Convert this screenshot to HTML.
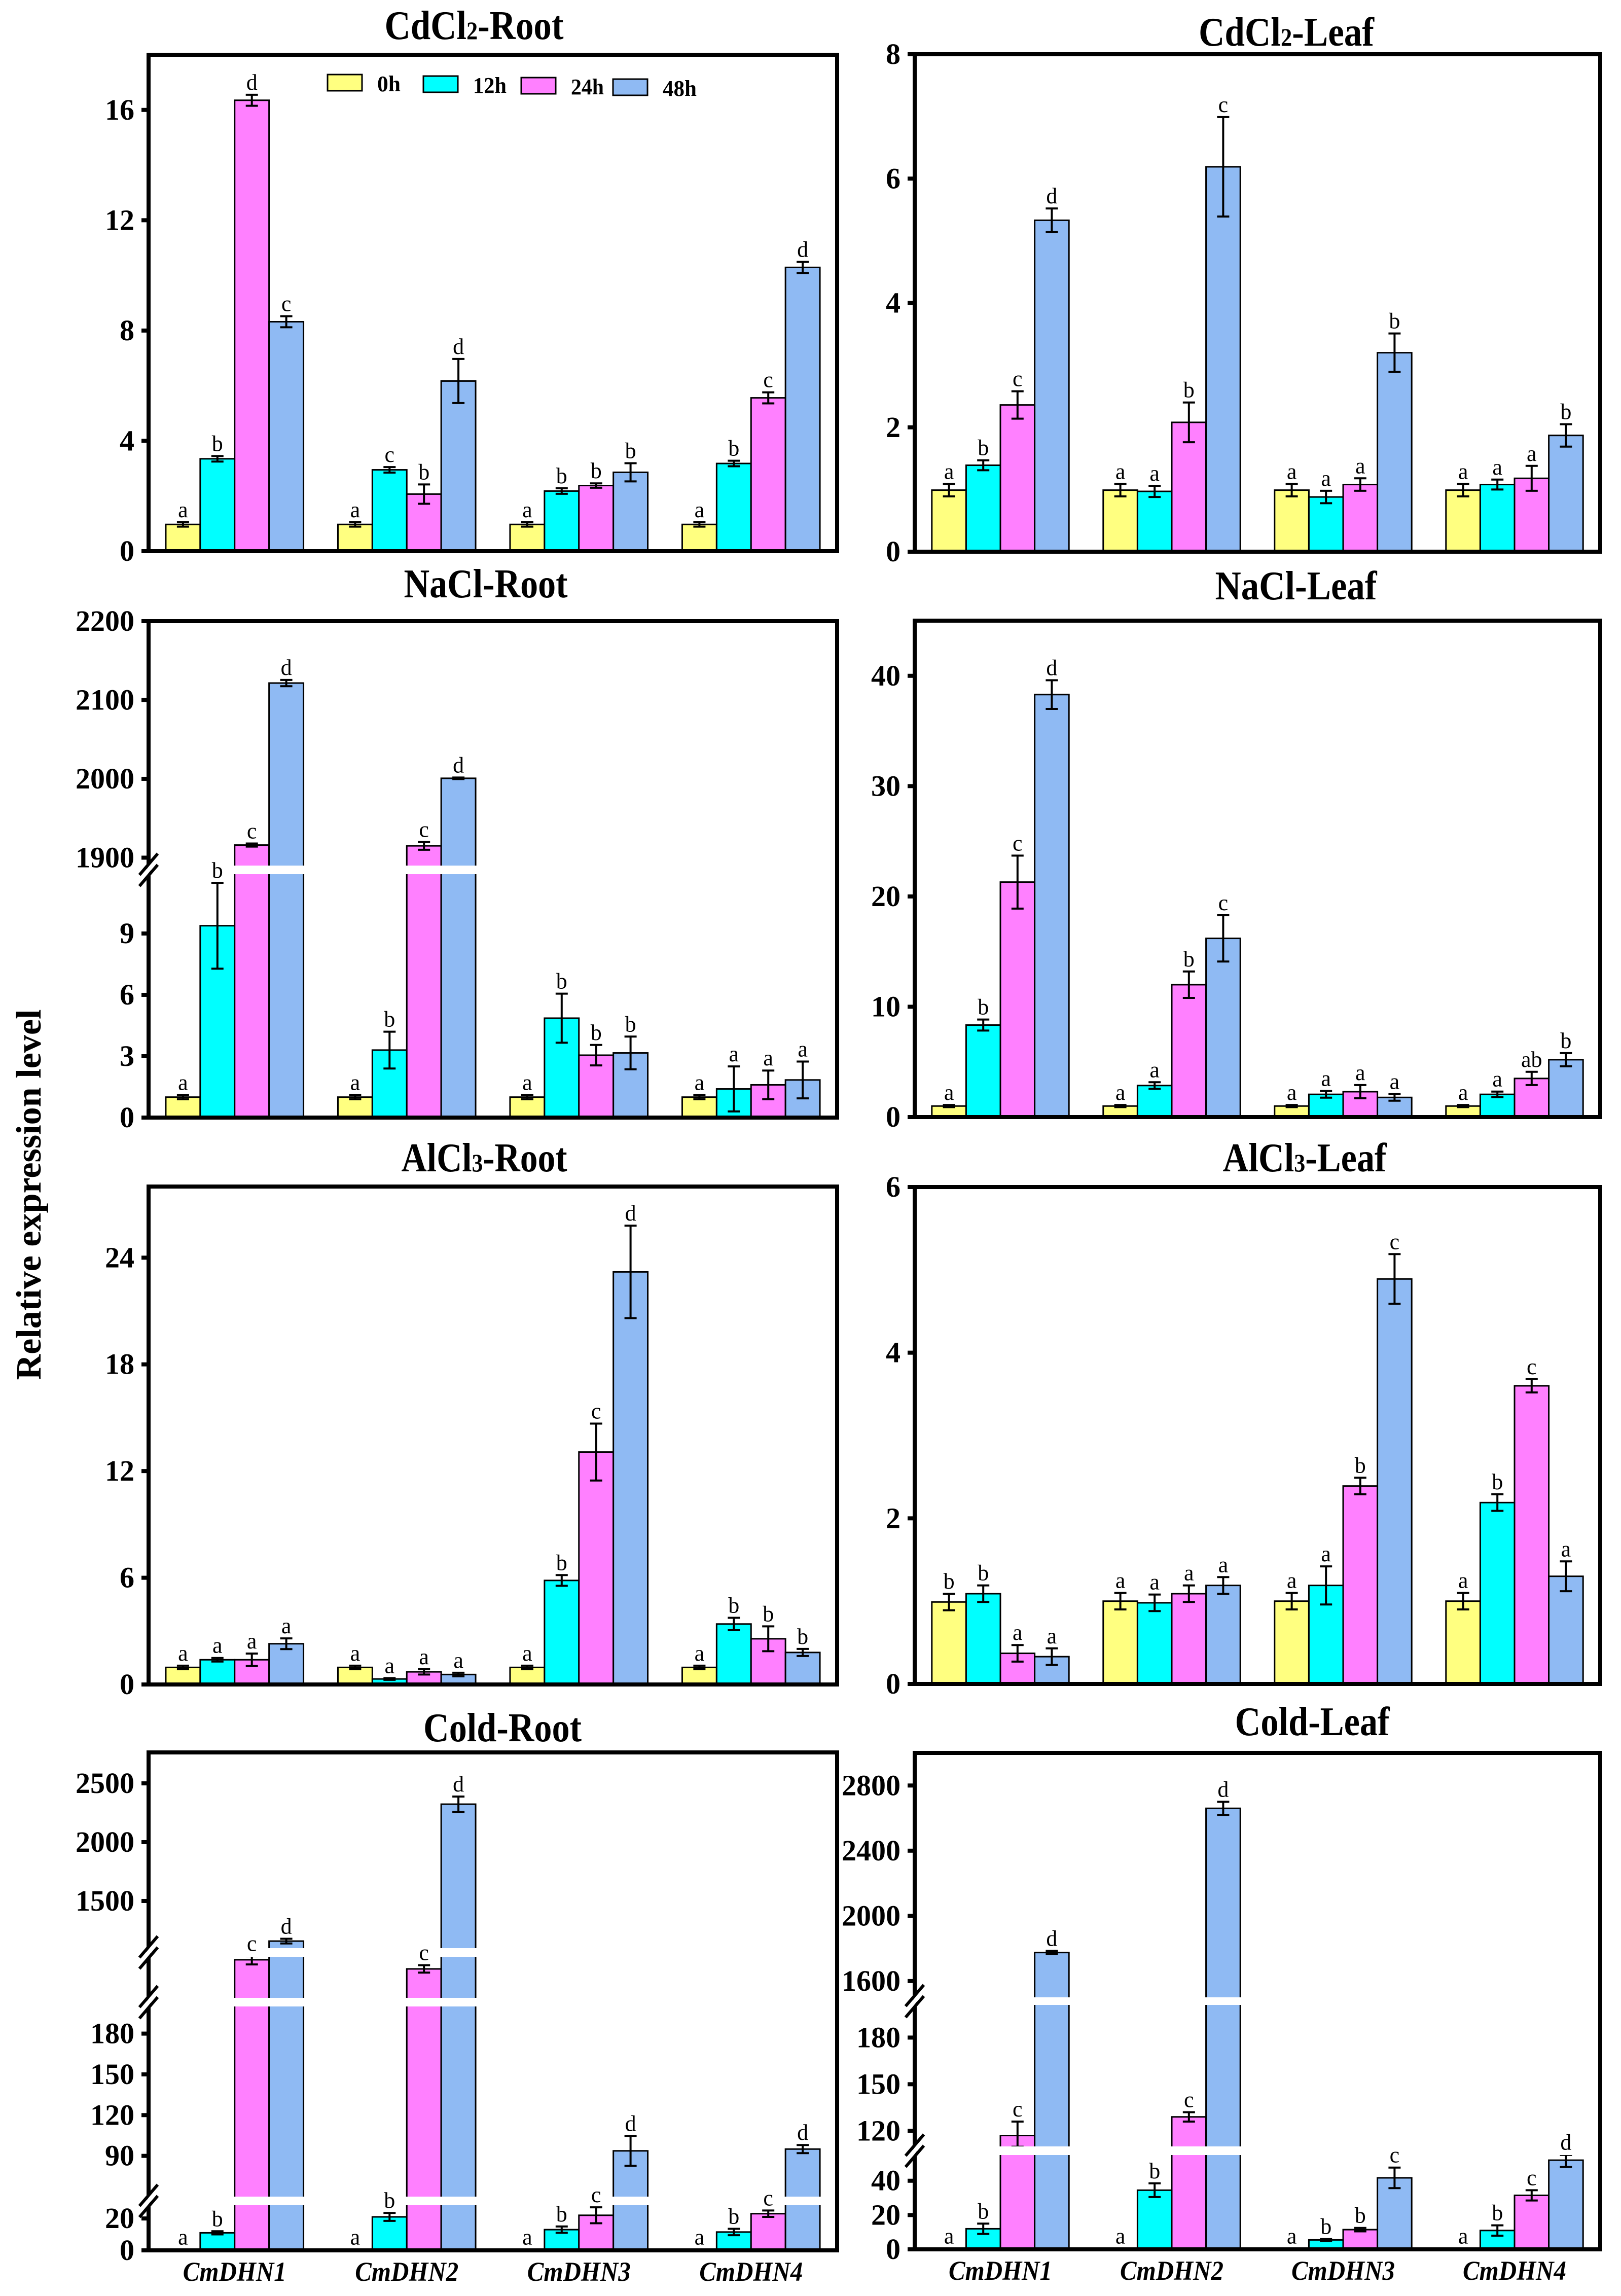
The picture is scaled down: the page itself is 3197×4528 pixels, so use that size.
<!DOCTYPE html>
<html><head><meta charset="utf-8"><style>
html,body{margin:0;padding:0;background:#fff;}
svg{display:block;}
text{font-family:"Liberation Serif","Times New Roman",serif;}
</style></head><body>
<svg id="fig" xmlns="http://www.w3.org/2000/svg" width="3197" height="4528" viewBox="0 0 3197 4528">
<rect x="0" y="0" width="3197" height="4528" fill="#fff"/>
<text x="0" y="0" transform="translate(80,2356) rotate(-90)" text-anchor="middle" font-size="70" font-weight="bold" textLength="731" lengthAdjust="spacingAndGlyphs">Relative expression level</text>
</svg>
<script>
// ---- data ----
const genes = ["CmDHN1","CmDHN2","CmDHN3","CmDHN4"];
const times = ["0h","12h","24h","48h"];
const colors = ["#FFFF80","#00FFFF","#FF80FF","#8FBAF3"];

const cdRootValues = [[0.97,0.97,0.97,0.97],[3.35,2.95,2.18,3.18],[16.35,2.07,2.38,5.56],[8.32,6.17,2.86,10.29]];
const cdRootErrors = [[0.08,0.08,0.08,0.08],[0.1,0.1,0.1,0.1],[0.2,0.35,0.08,0.2],[0.2,0.8,0.33,0.2]];
const cdRootLetters = [["a","a","a","a"],["b","c","b","b"],["d","b","b","c"],["c","d","b","d"]];
const cdRootTicks = [0,4,8,12,16];

const cdLeafValues = [[0.99,0.99,0.99,0.99],[1.39,0.97,0.88,1.08],[2.36,2.08,1.08,1.18],[5.33,6.19,3.2,1.87]];
const cdLeafErrors = [[0.1,0.1,0.1,0.1],[0.08,0.09,0.1,0.08],[0.22,0.32,0.1,0.2],[0.19,0.8,0.31,0.18]];
const cdLeafLetters = [["a","a","a","a"],["b","a","a","a"],["c","b","a","a"],["d","c","b","b"]];
const cdLeafTicks = [0,2,4,6,8];

const naRootValues = [[1,1,1,1],[9.38,3.3,4.86,1.4],[1916,1915,3.05,1.6],[2121.5,2000.7,3.16,1.84]];
const naRootErrors = [[0.1,0.1,0.1,0.1],[2.1,0.9,1.2,1.1],[2,5,0.5,0.7],[4,1,0.8,0.9]];
const naRootLetters = [["a","a","a","a"],["b","b","b","a"],["c","c","b","a"],["d","d","b","a"]];
const naRootTicks = [0,3,6,9,1900,2000,2100,2200];

const naLeafValues = [[1,1,1,1],[8.34,2.86,2.06,2.06],[21.3,12.0,2.3,3.5],[38.3,16.2,1.78,5.2]];
const naLeafErrors = [[0.1,0.1,0.1,0.1],[0.5,0.3,0.3,0.25],[2.4,1.2,0.6,0.6],[1.3,2.1,0.3,0.6]];
const naLeafLetters = [["a","a","a","a"],["b","a","a","a"],["c","b","a","ab"],["d","c","a","b"]];
const naLeafTicks = [0,10,20,30,40];

const alRootValues = [[0.96,0.96,0.96,0.96],[1.39,0.31,5.85,3.4],[1.39,0.71,13.07,2.57],[2.29,0.56,23.2,1.8]];
const alRootErrors = [[0.1,0.1,0.1,0.1],[0.1,0.05,0.3,0.35],[0.35,0.15,1.6,0.7],[0.3,0.1,2.6,0.2]];
const alRootLetters = [["a","a","a","a"],["a","a","b","b"],["a","a","c","b"],["a","a","d","b"]];
const alRootTicks = [0,6,12,18,24];

const alLeafValues = [[0.99,1.0,1.0,1.0],[1.09,0.98,1.19,2.19],[0.37,1.09,2.39,3.6],[0.33,1.19,4.89,1.3]];
const alLeafErrors = [[0.1,0.1,0.1,0.1],[0.1,0.1,0.23,0.1],[0.1,0.1,0.1,0.08],[0.1,0.1,0.3,0.18]];
const alLeafLetters = [["b","a","a","a"],["b","a","a","b"],["a","a","b","c"],["a","a","c","a"]];
const alLeafTicks = [0,2,4,6];

const coldRootValues = [[0.5,0.5,0.5,0.5],[11,21,13,11.5],[984,935,22,23],[1159,2323,93.7,95]];
const coldRootErrors = [[0,0,0,0],[1,2.5,2,2],[25,20,5,2],[20,65,11,3]];
const coldRootLetters = [["a","a","a","a"],["b","b","b","b"],["c","c","c","c"],["d","d","d","d"]];
const coldRootTicks = [0,20,90,120,150,180,1500,2000,2500];

const coldLeafValues = [[0.5,0.5,0.5,0.5],[12,34.5,5.5,11],[117,129,11.5,31.5],[1775,2660,41.7,52]];
const coldLeafErrors = [[0,0,0,0],[3,4,0.5,3],[9,3,1,3],[10,40,6,4]];
const coldLeafLetters = [["a","a","a","a"],["b","b","b","b"],["c","c","b","c"],["d","d","c","d"]];
const coldLeafTicks = [0,20,40,120,150,180,1600,2000,2400,2800];

// ---- layout (pixels, not data) ----
const panels = [
 {name:"cdcl2-root", title:"CdCl", sub:"2", rest:"-Root", tx:935, ty:77, tw:353, L:293, R:1651, T:108, B:1087,
  segs:[[0,18,1087,108]], gaps:[], vals:cdRootValues, errs:cdRootErrors, lets:cdRootLetters, ticks:cdRootTicks, legend:true},
 {name:"cdcl2-leaf", title:"CdCl", sub:"2", rest:"-Leaf", tx:2537, ty:90, tw:346, L:1804, R:3156, T:107, B:1088,
  segs:[[0,8,1088,107]], gaps:[], vals:cdLeafValues, errs:cdLeafErrors, lets:cdLeafLetters, ticks:cdLeafTicks},
 {name:"nacl-root", title:"NaCl-Root", tx:958, ty:1178, tw:323, L:293, R:1651, T:1225, B:2204,
  segs:[[0,11.9,2204,1724],[1890,2200,1707,1225]], gaps:[[1707,1724]], vals:naRootValues, errs:naRootErrors, lets:naRootLetters, ticks:naRootTicks},
 {name:"nacl-leaf", title:"NaCl-Leaf", tx:2556, ty:1182, tw:319, L:1804, R:3156, T:1224, B:2203,
  segs:[[0,45,2203,1224]], gaps:[], vals:naLeafValues, errs:naLeafErrors, lets:naLeafLetters, ticks:naLeafTicks},
 {name:"alcl3-root", title:"AlCl", sub:"3", rest:"-Root", tx:955, ty:2310, tw:327, L:293, R:1651, T:2340, B:3322,
  segs:[[0,28,3322,2340]], gaps:[], vals:alRootValues, errs:alRootErrors, lets:alRootLetters, ticks:alRootTicks},
 {name:"alcl3-leaf", title:"AlCl", sub:"3", rest:"-Leaf", tx:2573, ty:2310, tw:323, L:1804, R:3156, T:2341, B:3321,
  segs:[[0,6,3321,2341]], gaps:[], vals:alLeafValues, errs:alLeafErrors, lets:alLeafLetters, ticks:alLeafTicks},
 {name:"cold-root", title:"Cold-Root", tx:991, ty:3434, tw:312, L:293, R:1651, T:3456, B:4438,
  segs:[[0,28.3,4438,4349],[60,200,4332,3957],[780,1000,3940,3859],[1099,2763,3842,3456]],
  gaps:[[4332,4349],[3940,3957],[3842,3859]], vals:coldRootValues, errs:coldRootErrors, lets:coldRootLetters, ticks:coldRootTicks, xlabels:true},
 {name:"cold-leaf", title:"Cold-Leaf", tx:2588, ty:3422, tw:305, L:1804, R:3156, T:3457, B:4436,
  segs:[[0,55,4436,4250],[110,201,4233,3954],[1500,3000,3939,3457]],
  gaps:[[4233,4250],[3939,3954]], vals:coldLeafValues, errs:coldLeafErrors, lets:coldLeafLetters, ticks:coldLeafTicks, xlabels:true}
];

const NS = "http://www.w3.org/2000/svg";
const svg = document.getElementById("fig");
function el(tag, attrs, parent){
  const e = document.createElementNS(NS, tag);
  for (const k in attrs) e.setAttribute(k, attrs[k]);
  (parent||svg).appendChild(e);
  return e;
}
function makeScale(segs){
  return function(v){
    for (const s of segs) if (v >= s[0] && v <= s[1]) return s[2] + (v - s[0]) * (s[3] - s[2]) / (s[1] - s[0]);
    for (let i = 0; i < segs.length - 1; i++) {
      const a = segs[i], b = segs[i+1];
      if (v > a[1] && v < b[0]) return a[3] + (v - a[1]) * (b[2] - a[3]) / (b[0] - a[1]);
    }
    const s = v < segs[0][0] ? segs[0] : segs[segs.length - 1];
    return s[2] + (v - s[0]) * (s[3] - s[2]) / (s[1] - s[0]);
  };
}

panels.forEach(p => {
  const g = el("g", {});
  
  
  const y = makeScale(p.segs);
  const band = (p.R - p.L) / genes.length;
  const bw = band * 0.8 / times.length;

  // title
  const t = el("text", {x:p.tx, y:p.ty, "text-anchor":"middle", "font-size":80, "font-weight":"bold", textLength:p.tw, lengthAdjust:"spacingAndGlyphs"}, g);
  
  
  if (p.sub) {
    t.appendChild(document.createTextNode(p.title));
    const ts = el("tspan", {"font-size":50}, t);
    ts.textContent = p.sub;
    const tr = el("tspan", {}, t);
    tr.textContent = p.rest;
  } else t.textContent = p.title;

  const letterJobs = [];
  // bars
  for (let gi = 0; gi < genes.length; gi++) {
    for (let ti = 0; ti < times.length; ti++) {
      const v = p.vals[ti][gi], e = p.errs[ti][gi];
      const x0 = p.L + gi * band + band * 0.1 + ti * bw;
      const yt = y(v);
      const r = el("rect", {x:x0, y:yt, width:bw, height:Math.max(0, p.B - yt), fill:colors[ti], stroke:"#000", "stroke-width":3}, g);
      
      
      const cx = x0 + bw / 2;
      const yTop = y(v + e), yBot = y(Math.max(0, v - e));
      if (e > 0) {
        const eb = el("g", {stroke:"#000", "stroke-width":4}, g);
        
        
        el("line", {x1:cx, x2:cx, y1:yTop, y2:yBot}, eb);
        el("line", {x1:cx-12, x2:cx+12, y1:yTop, y2:yTop}, eb);
        el("line", {x1:cx-12, x2:cx+12, y1:yBot, y2:yBot}, eb);
      }
      letterJobs.push([cx, Math.min(yTop, yt) - 10, p.lets[ti][gi]]);
    }
  }

  // gaps (axis breaks through bars)
  p.gaps.forEach(gp => {
    const w = el("rect", {x:p.L + 5, y:gp[0], width:p.R - p.L - 10, height:gp[1] - gp[0], fill:"#fff"}, g);
    
    
  });

  // letters
  letterJobs.forEach(j => {
    const lt = el("text", {x:j[0], y:j[1], "text-anchor":"middle", "font-size":44}, g);
    
    
    lt.textContent = j[2];
  });

  // frame
  const fr = el("rect", {x:p.L, y:p.T, width:p.R - p.L, height:p.B - p.T, fill:"none", stroke:"#000", "stroke-width":8}, g);
  
  

  // break markers
  p.gaps.forEach(gp => {
    const cy = (gp[0] + gp[1]) / 2;
    const bm = el("g", {}, g);
    
    
    el("polygon", {points:`${p.L-16},${cy+14} ${p.L+14},${cy-24} ${p.L+16},${cy-14} ${p.L-14},${cy+24}`, fill:"#fff"}, bm);
    el("line", {x1:p.L-18, y1:cy+10, x2:p.L+18, y2:cy-32, stroke:"#000", "stroke-width":6}, bm);
    el("line", {x1:p.L-18, y1:cy+32, x2:p.L+18, y2:cy-10, stroke:"#000", "stroke-width":6}, bm);
  });

  // ticks
  p.ticks.forEach(tv => {
    const ty = y(tv);
    const tk = el("line", {x1:p.L - 14, x2:p.L, y1:ty, y2:ty, stroke:"#000", "stroke-width":8}, g);
    
    
    const tl = el("text", {x:p.L - 28, y:ty + 19, "text-anchor":"end", "font-size":58, "font-weight":"bold"}, g);
    
    
    tl.textContent = tv;
  });

  // x labels
  if (p.xlabels) {
    genes.forEach((gn, gi) => {
      const xl = el("text", {x:p.L + gi * band + band / 2, y:p.B + 60, "text-anchor":"middle", "font-size":54, "font-weight":"bold", "font-style":"italic", textLength:204, lengthAdjust:"spacingAndGlyphs"}, g);
      
      
      xl.textContent = gn;
    });
  }

  // legend
  if (p.legend) {
    const lg = el("g", {}, g);
    
    
    const boxX = [646, 835, 1028, 1209], boxY = [147, 150, 153, 156], txtW = [46, 66, 65, 67];
    times.forEach((tm, ti) => {
      const le = el("g", {}, lg);
      
      
      el("rect", {x:boxX[ti], y:boxY[ti], width:68, height:32, fill:colors[ti], stroke:"#000", "stroke-width":3}, le);
      const tt = el("text", {x:boxX[ti] + 98, y:boxY[ti] + 33, "font-size":44, "font-weight":"bold", textLength:txtW[ti], lengthAdjust:"spacingAndGlyphs"}, le);
      tt.textContent = tm;
    });
  }
});
</script>
</body></html>
